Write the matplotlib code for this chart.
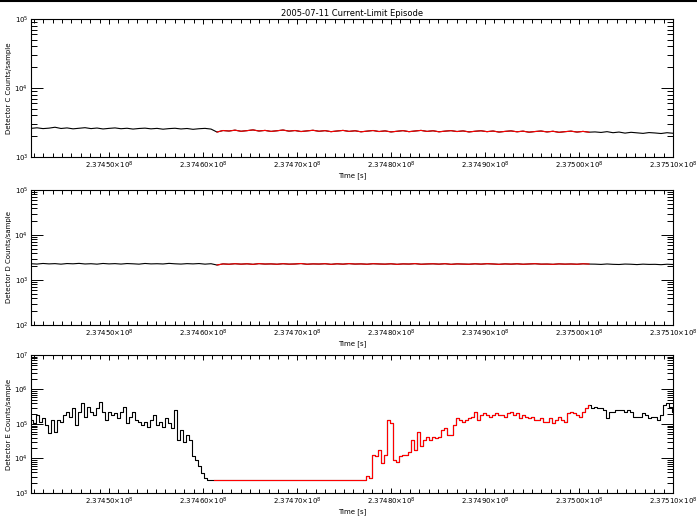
import numpy as np
import matplotlib
matplotlib.use('Agg')
import matplotlib.pyplot as plt
from matplotlib.ticker import LogLocator, MultipleLocator, FixedLocator, NullFormatter
from matplotlib.lines import Line2D

# time window (s) and current-limit episode
t_start = 237441700
t_end = 237510000
ep_start = 237461000
ep_end = 237501200

title = '2005-07-11 Current-Limit Episode'
xtick_vals = [237450000, 237460000, 237470000, 237480000, 237490000, 237500000, 237510000]
xtick_text = ['2.37450', '2.37460', '2.37470', '2.37480', '2.37490', '2.37500', '2.37510']

# detector C counts/sample
det_c = [2600, 2650, 2580, 2620, 2700, 2590, 2640, 2560, 2610, 2660, 2580, 2630,
         2550, 2600, 2640, 2570, 2610, 2540, 2590, 2620, 2560, 2600, 2530, 2580,
         2610, 2550, 2590, 2520, 2570, 2600, 2540,
         2300, 2420, 2380, 2450, 2360, 2410, 2470, 2380, 2430, 2350, 2400, 2460,
         2370, 2420, 2340, 2390, 2440, 2360, 2410, 2330, 2380, 2430, 2350, 2400,
         2320, 2370, 2420, 2340, 2390, 2310, 2360, 2410, 2330, 2380, 2430, 2350,
         2400, 2320, 2370, 2410, 2340, 2390, 2310, 2360, 2400, 2330, 2380, 2300,
         2350, 2390, 2320, 2370, 2290, 2340, 2380, 2310, 2360, 2280, 2330, 2370,
         2300, 2350, 2290,
         2310, 2270, 2330, 2250, 2300, 2220, 2280, 2240, 2200, 2260, 2230, 2190,
         2250, 2210]

# detector D counts/sample
det_d = [2300, 2260, 2330, 2280, 2310, 2250, 2320, 2290, 2340, 2270, 2300, 2250,
         2330, 2280, 2310, 2260, 2320, 2290, 2250, 2330, 2280, 2300, 2270, 2340,
         2290, 2260, 2310, 2280, 2320, 2250, 2300,
         2150, 2280, 2240, 2300, 2250, 2290, 2230, 2310, 2260, 2280, 2240, 2300,
         2250, 2270, 2320, 2240, 2280, 2260, 2300, 2230, 2290, 2250, 2310, 2260,
         2280, 2240, 2300, 2270, 2250, 2290, 2230, 2280, 2260, 2310, 2240, 2270,
         2290, 2250, 2300, 2230, 2280, 2260, 2240, 2290, 2250, 2300, 2270, 2230,
         2280, 2250, 2290, 2240, 2270, 2300, 2250, 2260, 2230, 2280, 2250, 2270,
         2240, 2290, 2260,
         2250, 2220, 2270, 2230, 2210, 2260, 2240, 2200, 2250, 2220, 2230, 2190,
         2240, 2210]

# detector E counts/sample (log10 values)
det_e_log = [5.12, 5.02, 5.26, 5.07, 5.16, 4.97, 4.73, 5.12, 4.78, 5.12, 5.07, 5.26,
             5.36, 5.21, 5.45, 4.97, 5.36, 5.60, 5.21, 5.50, 5.36, 5.26, 5.45, 5.64,
             5.36, 5.12, 5.36, 5.26, 5.31, 5.16, 5.36, 5.50, 5.02, 5.21, 5.36, 5.12,
             5.07, 4.97, 5.07, 4.92, 5.12, 5.26, 4.97, 5.07, 4.92, 5.16, 5.02, 4.88,
             5.40, 4.54, 4.83, 4.49, 4.68, 4.54, 4.06, 3.96, 3.77, 3.58, 3.43, 3.38,
             3.38,
             3.38, 3.39, 3.38, 3.38, 3.39, 3.38, 3.37, 3.38, 3.39, 3.38, 3.38, 3.39,
             3.38, 3.38, 3.37, 3.38, 3.39, 3.38, 3.38, 3.38, 3.39, 3.38, 3.37, 3.38,
             3.38, 3.39, 3.38, 3.38, 3.38, 3.39, 3.38, 3.38, 3.37, 3.38, 3.39, 3.38,
             3.38, 3.38, 3.39, 3.38, 3.38, 3.37, 3.38, 3.39, 3.38, 3.38,
             3.38, 3.38, 3.39, 3.38, 3.38, 3.50, 3.43, 4.11, 4.06, 4.25, 3.87, 4.11,
             5.12, 5.02, 3.96, 3.91, 4.06, 4.11, 4.11, 4.20, 4.54, 4.25, 4.78, 4.35,
             4.54, 4.63, 4.54, 4.63, 4.59, 4.63, 4.83, 4.88, 4.68, 4.68, 4.97, 5.16,
             5.12, 5.07, 5.12, 5.16, 5.21, 5.36, 5.12, 5.26, 5.31, 5.26, 5.21, 5.26,
             5.31, 5.26, 5.26, 5.21, 5.31, 5.36, 5.26, 5.31, 5.16, 5.26, 5.21, 5.16,
             5.21, 5.12, 5.12, 5.16, 5.07, 5.07, 5.16, 5.02, 5.12, 5.21, 5.12, 5.07,
             5.31, 5.36, 5.31, 5.26, 5.21, 5.36, 5.45, 5.55, 5.45, 5.50, 5.45, 5.45,
             5.40, 5.16, 5.36, 5.36, 5.40, 5.40, 5.40, 5.36, 5.40, 5.36, 5.21, 5.21,
             5.21, 5.31, 5.26, 5.16, 5.21, 5.21, 5.12, 5.26, 5.55, 5.60, 5.50, 5.36]
det_e = [10 ** v for v in det_e_log]

panels = [
    (det_c, 'Detector C Counts/sample', (1e3, 1e5), [3, 4, 5], 'default'),
    (det_d, 'Detector D Counts/sample', (1e2, 1e5), [2, 3, 4, 5], 'default'),
    (det_e, 'Detector E Counts/sample', (1e3, 1e7), [3, 4, 5, 6, 7], 'steps-mid'),
]
boxes = [(0.0445, 0.6969, 0.9211, 0.2664),
         (0.0445, 0.3726, 0.9211, 0.2606),
         (0.0445, 0.0483, 0.9211, 0.2664)]

plt.rcParams['font.family'] = 'DejaVu Sans'
plt.rcParams['mathtext.fontset'] = 'dejavusans'
fs = 5

fig = plt.figure(figsize=(6.97, 5.18), dpi=100)
fig.add_artist(Line2D([0, 1], [0.998, 0.998], color='black', lw=1.5))

for (vals, ylab, ylim, decades, ds), box in zip(panels, boxes):
    ax = fig.add_axes(box)
    vals = np.array(vals, dtype=float)
    t = np.linspace(t_start, t_end, len(vals))
    ax.plot(t, vals, color='black', lw=0.8, drawstyle=ds)
    m = (t >= ep_start) & (t <= ep_end)
    ax.plot(t[m], vals[m], color='red', lw=0.8, drawstyle=ds)

    ax.set_yscale('log')
    ax.set_ylim(*ylim)
    ax.set_xlim(t_start, t_end)
    ax.yaxis.set_major_locator(FixedLocator([10.0 ** d for d in decades]))
    ax.set_yticklabels([r'10$^{%d}$' % d for d in decades])
    ax.yaxis.set_minor_locator(LogLocator(base=10, subs=np.arange(2, 10)))
    ax.yaxis.set_minor_formatter(NullFormatter())
    ax.set_xticks(xtick_vals)
    ax.set_xticklabels([s + r'$\times$10$^{8}$' for s in xtick_text])
    ax.xaxis.set_minor_locator(MultipleLocator(1000))

    ax.tick_params(axis='both', which='both', direction='in', top=True, right=True,
                   labelsize=fs, width=0.7, pad=2)
    ax.tick_params(axis='y', which='major', length=8.5)
    ax.tick_params(axis='y', which='minor', length=4.5)
    ax.tick_params(axis='x', which='major', length=3.5)
    ax.tick_params(axis='x', which='minor', length=3)
    for sp in ax.spines.values():
        sp.set_linewidth(0.8)

    ax.set_xlabel('Time [s]', fontsize=fs, labelpad=1)
    ax.set_ylabel(ylab, fontsize=fs, labelpad=2)

fig.axes[0].set_title(title, fontsize=6, pad=2)

fig.savefig('out.png', dpi=100)
